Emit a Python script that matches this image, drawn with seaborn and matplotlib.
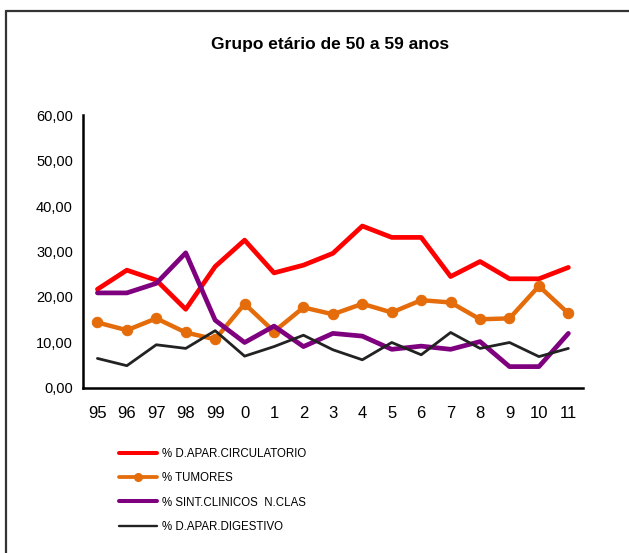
import seaborn as sns
import matplotlib.pyplot as plt
import matplotlib.ticker as mticker
from matplotlib.lines import Line2D
import pandas as pd

anos = ['95', '96', '97', '98', '99', '0', '1', '2', '3', '4', '5', '6', '7', '8', '9', '10', '11']

circulatorio = [21.7, 25.9, 23.7, 17.3, 26.7, 32.5, 25.3, 27.0, 29.6, 35.6, 33.1, 33.1, 24.5, 27.8, 24.0, 24.0, 26.5]
tumores = [14.4, 12.7, 15.3, 12.2, 10.7, 18.5, 12.4, 17.7, 16.2, 18.5, 16.6, 19.3, 18.8, 15.1, 15.3, 22.4, 16.4]
sint_clinicos = [20.9, 20.9, 23.0, 29.7, 14.9, 10.0, 13.6, 9.1, 12.0, 11.4, 8.5, 9.2, 8.5, 10.2, 4.7, 4.7, 12.0]
digestivo = [6.5, 4.9, 9.5, 8.7, 12.6, 7.0, 9.1, 11.6, 8.4, 6.2, 10.0, 7.3, 12.2, 8.7, 10.0, 6.9, 8.7]

series = ['% D.APAR.CIRCULATORIO', '% TUMORES', '% SINT.CLINICOS  N.CLAS', '% D.APAR.DIGESTIVO']
cores = ['#FF0000', '#E46C0A', '#7F007F', '#222222']

df = pd.DataFrame({
    'pos': list(range(len(anos))) * 4,
    'valor': circulatorio + tumores + sint_clinicos + digestivo,
    'serie': sum([[s] * len(anos) for s in series], []),
})

sns.set_style('white')
plt.rcParams['font.family'] = ['Liberation Sans Narrow', 'Liberation Sans', 'DejaVu Sans']
plt.rcParams['text.color'] = 'black'
plt.rcParams['xtick.color'] = 'black'
plt.rcParams['ytick.color'] = 'black'

fig = plt.figure(figsize=(6.29, 5.53), dpi=100)
ax = fig.add_axes([0.1315, 0.2984, 0.927 - 0.1315, 0.792 - 0.2984])

estilos = {
    series[0]: dict(lw=3.4, marker=None),
    series[1]: dict(lw=3.2, marker='o', ms=7.5),
    series[2]: dict(lw=3.4, marker=None),
    series[3]: dict(lw=2.0, marker=None),
}

handles = []
for s, c in zip(series, cores):
    sub = df[df['serie'] == s]
    st = estilos[s]
    sns.lineplot(data=sub, x='pos', y='valor', color=c, linewidth=st['lw'],
                 marker=st['marker'], markersize=st.get('ms', 0),
                 markeredgecolor=c, ax=ax, legend=False)
    handles.append(Line2D([], [], color=c, lw=st['lw'] * 0.85, marker=st['marker'],
                          markersize=5.5 if st['marker'] else 0))

ax.set_xlim(-0.5, len(anos) - 0.5)
ax.set_ylim(0, 60)
ax.set_xticks(range(len(anos)))
ax.set_xticklabels(anos, fontsize=12)
ax.set_xticks([i - 0.5 for i in range(len(anos) + 1)], minor=True)
ax.tick_params(axis='x', which='major', length=0, pad=13)
ax.tick_params(axis='x', which='minor', length=5, width=1.2, direction='out', color='black')
ax.set_yticks(range(0, 61, 10))
ax.yaxis.set_major_formatter(mticker.FuncFormatter(lambda v, p: f'{v:.2f}'.replace('.', ',')))
ax.tick_params(axis='y', length=4, width=1.2, direction='out', labelsize=10.5, color='black', pad=3)
ax.set_xlabel('')
ax.set_ylabel('')

for side in ['top', 'right']:
    ax.spines[side].set_visible(False)
for side in ['left', 'bottom']:
    ax.spines[side].set_color('black')
    ax.spines[side].set_linewidth(1.8)

fig.text(330 / 629, 1 - 44 / 553, 'Grupo etário de 50 a 59 anos', ha='center', va='center',
         fontsize=12.5, fontweight='bold')

fig.legend(handles, series, loc='upper left', bbox_to_anchor=(114 / 629, 1 - 443 / 553),
           frameon=False, fontsize=8.3, handlelength=3.3, handletextpad=0.45, labelspacing=1.08,
           borderaxespad=0)

# moldura do gráfico
fig.add_artist(Line2D([5.5 / 629, 1], [1 - 11 / 553, 1 - 11 / 553], transform=fig.transFigure,
                      color='#333333', lw=1.6))
fig.add_artist(Line2D([5.5 / 629, 5.5 / 629], [0, 1 - 11 / 553], transform=fig.transFigure,
                      color='#333333', lw=1.6))

plt.savefig('out.png', dpi=100)
